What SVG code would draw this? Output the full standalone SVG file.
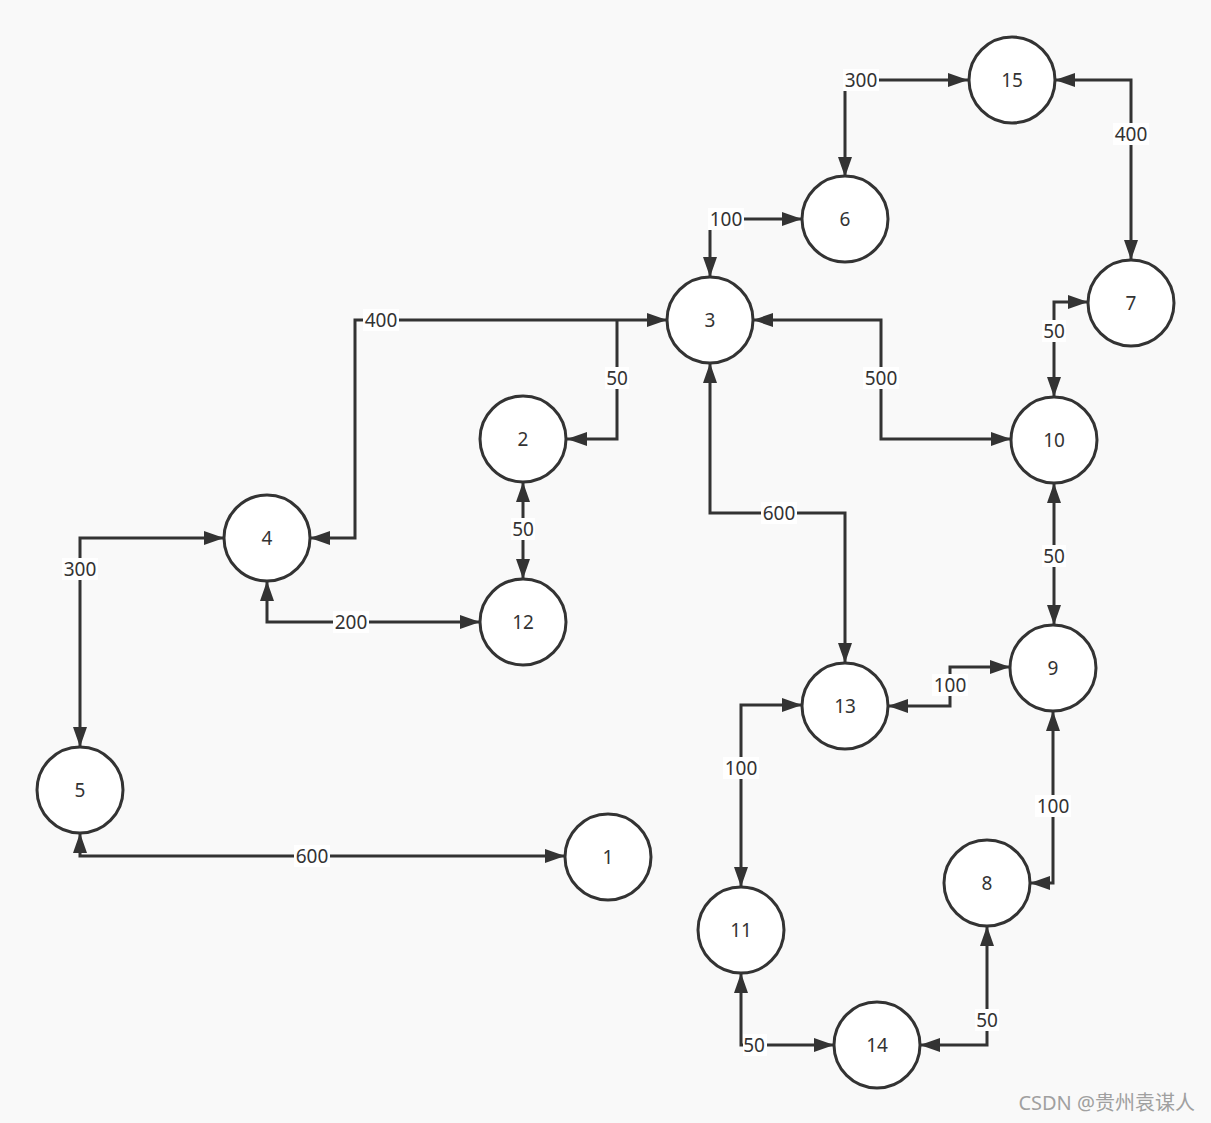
<svg xmlns="http://www.w3.org/2000/svg" width="1211" height="1123" viewBox="0 0 1211 1123">
<style>
.node circle{fill:#fff;stroke:#333;stroke-width:3}
.node text{font-family:"Noto Sans","Open Sans",sans-serif;font-size:19px;fill:#333;text-anchor:middle;dominant-baseline:central}
.edge path{fill:none;stroke:#333;stroke-width:3}
.lbl rect{fill:#fff}
.lbl text{font-family:"Noto Sans","Open Sans",sans-serif;font-size:19px;fill:#333;text-anchor:middle;dominant-baseline:central}
.wm{font-family:"Noto Sans","Noto Sans CJK SC",sans-serif;font-size:20px;fill:#a0a0a0}
</style>
<defs>
<marker id="ah" markerUnits="userSpaceOnUse" markerWidth="20" markerHeight="14" refX="20" refY="7" orient="auto-start-reverse" viewBox="0 0 20 14">
<path d="M0,0 L20,7 L0,14 z" fill="#333"/>
</marker>
</defs>
<rect width="1211" height="1123" fill="#f9f9f9"/>
<g id="connectors">
<g class="edge">
<path d="M968,80 H845 V177" marker-start="url(#ah)" marker-end="url(#ah)"/>
<path d="M1055,80 H1131 V260" marker-start="url(#ah)" marker-end="url(#ah)"/>
<path d="M802,219 H710 V277" marker-start="url(#ah)" marker-end="url(#ah)"/>
<path d="M667,320 H355 V538 H310" marker-start="url(#ah)" marker-end="url(#ah)"/>
<path d="M617,320 V439 H567" marker-end="url(#ah)"/>
<path d="M753,320 H881 V439 H1011" marker-start="url(#ah)" marker-end="url(#ah)"/>
<path d="M1088,302 H1054 V397" marker-start="url(#ah)" marker-end="url(#ah)"/>
<path d="M523,482 V579" marker-start="url(#ah)" marker-end="url(#ah)"/>
<path d="M710,363 V513 H845 V663" marker-start="url(#ah)" marker-end="url(#ah)"/>
<path d="M224,538 H80 V747" marker-start="url(#ah)" marker-end="url(#ah)"/>
<path d="M267,581 V622 H480" marker-start="url(#ah)" marker-end="url(#ah)"/>
<path d="M1054,483 V625" marker-start="url(#ah)" marker-end="url(#ah)"/>
<path d="M888,706 H950 V667 H1010" marker-start="url(#ah)" marker-end="url(#ah)"/>
<path d="M802,705 H741 V887" marker-start="url(#ah)" marker-end="url(#ah)"/>
<path d="M1053,711 V883 H1030" marker-start="url(#ah)" marker-end="url(#ah)"/>
<path d="M80,833 V856 H565" marker-start="url(#ah)" marker-end="url(#ah)"/>
<path d="M741,973 V1045 H834" marker-start="url(#ah)" marker-end="url(#ah)"/>
<path d="M920,1045 H987 V926" marker-start="url(#ah)" marker-end="url(#ah)"/>
</g>
<g class="lbl">
<rect x="843" y="69" width="36" height="22"/><text x="861" y="80">300</text>
<rect x="1113" y="123" width="36" height="22"/><text x="1131" y="134">400</text>
<rect x="708" y="208" width="36" height="22"/><text x="726" y="219">100</text>
<rect x="363" y="309" width="36" height="22"/><text x="381" y="320">400</text>
<rect x="605" y="367" width="24" height="22"/><text x="617" y="378">50</text>
<rect x="863" y="367" width="36" height="22"/><text x="881" y="378">500</text>
<rect x="1042" y="320" width="24" height="22"/><text x="1054" y="331">50</text>
<rect x="511" y="518" width="24" height="22"/><text x="523" y="529">50</text>
<rect x="761" y="502" width="36" height="22"/><text x="779" y="513">600</text>
<rect x="62" y="558" width="36" height="22"/><text x="80" y="569">300</text>
<rect x="333" y="611" width="36" height="22"/><text x="351" y="622">200</text>
<rect x="1042" y="545" width="24" height="22"/><text x="1054" y="556">50</text>
<rect x="932" y="674" width="36" height="22"/><text x="950" y="685">100</text>
<rect x="723" y="757" width="36" height="22"/><text x="741" y="768">100</text>
<rect x="1035" y="795" width="36" height="22"/><text x="1053" y="806">100</text>
<rect x="294" y="845" width="36" height="22"/><text x="312" y="856">600</text>
<rect x="743" y="1034" width="24" height="22"/><text x="754" y="1045">50</text>
<rect x="975" y="1009" width="24" height="22"/><text x="987" y="1020">50</text>
</g>
</g>
<g id="n15" class="node"><circle cx="1012" cy="80" r="43"/><text x="1012" y="80">15</text></g>
<g id="n6" class="node"><circle cx="845" cy="219" r="43"/><text x="845" y="219">6</text></g>
<g id="n7" class="node"><circle cx="1131" cy="303" r="43"/><text x="1131" y="303">7</text></g>
<g id="n3" class="node"><circle cx="710" cy="320" r="43"/><text x="710" y="320">3</text></g>
<g id="n2" class="node"><circle cx="523" cy="439" r="43"/><text x="523" y="439">2</text></g>
<g id="n10" class="node"><circle cx="1054" cy="440" r="43"/><text x="1054" y="440">10</text></g>
<g id="n4" class="node"><circle cx="267" cy="538" r="43"/><text x="267" y="538">4</text></g>
<g id="n12" class="node"><circle cx="523" cy="622" r="43"/><text x="523" y="622">12</text></g>
<g id="n9" class="node"><circle cx="1053" cy="668" r="43"/><text x="1053" y="668">9</text></g>
<g id="n13" class="node"><circle cx="845" cy="706" r="43"/><text x="845" y="706">13</text></g>
<g id="n5" class="node"><circle cx="80" cy="790" r="43"/><text x="80" y="790">5</text></g>
<g id="n1" class="node"><circle cx="608" cy="857" r="43"/><text x="608" y="857">1</text></g>
<g id="n8" class="node"><circle cx="987" cy="883" r="43"/><text x="987" y="883">8</text></g>
<g id="n11" class="node"><circle cx="741" cy="930" r="43"/><text x="741" y="930">11</text></g>
<g id="n14" class="node"><circle cx="877" cy="1045" r="43"/><text x="877" y="1045">14</text></g>
<text class="wm" x="1195" y="1110" text-anchor="end">CSDN @贵州袁谋人</text>
</svg>
